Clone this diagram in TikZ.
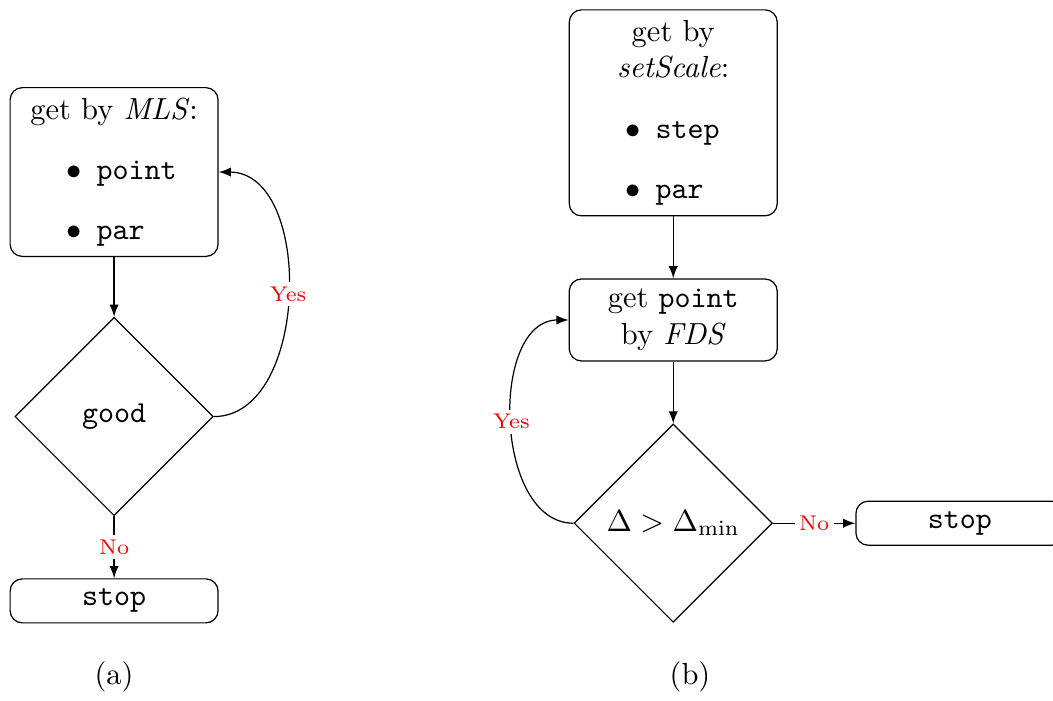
\documentclass[tikz,border=0pt]{standalone}
\usepackage{tikz}
\usetikzlibrary{positioning,shapes.geometric}

\def\boxw{61.5pt}
\newcommand{\bul}[1]{\makebox[\boxw][l]{\hspace*{15pt}$\bullet$\hspace{5pt}\texttt{#1}}}

\begin{document}
\begin{tikzpicture}[x=1pt, y=1pt,
  block/.style={draw, rounded corners, text width=\boxw, align=center},
  test/.style={draw, diamond, aspect=1, minimum width=65pt, minimum height=65pt, inner sep=1pt},
  lbl/.style={red, font=\scriptsize, fill=white, inner sep=1.5pt},
  >=latex]

\useasboundingbox (0,0) rectangle (345.2,-229.5);

%left loop
\node[block] (mls) at (37.4,-56.4) {get by \textit{MLS}:\\[7.7pt]\bul{point}\\[7.7pt]\bul{par}};
\node[test, below=19.6pt of mls] (good) {\texttt{good}};
\node[block, below=20.3pt of good] (stopa) {\texttt{stop}};

\draw[->] (mls) -- (good);
\draw[->] (good) -- node[lbl] {No} (stopa);
\draw[->] (good.east) to[out=0, in=0] node[lbl] {Yes} (mls.east);

\node (capa) at (37.4,-222) {(a)};

%right loop
\node[block] (scale) at (220.7,-37) {get by\\\textit{setScale}:\\[8pt]\bul{step}\\[7.7pt]\bul{par}};
\node[block, below=20.3pt of scale] (fds) {get \texttt{point}\\by \textit{FDS}};
\node[test, below=20.3pt of fds] (delta) {$\Delta > \Delta_{\min}$};
\node[block, right=27pt of delta] (stopb) {\texttt{stop}};

\draw[->] (scale) -- (fds);
\draw[->] (fds) -- (delta);
\draw[->] (delta) -- node[lbl] {No} (stopb);
\draw[->] (delta.west) to[out=180, in=180] node[lbl] {Yes} (fds.west);

\node (capb) at (226.2,-222) {(b)};
\end{tikzpicture}
\end{document}
